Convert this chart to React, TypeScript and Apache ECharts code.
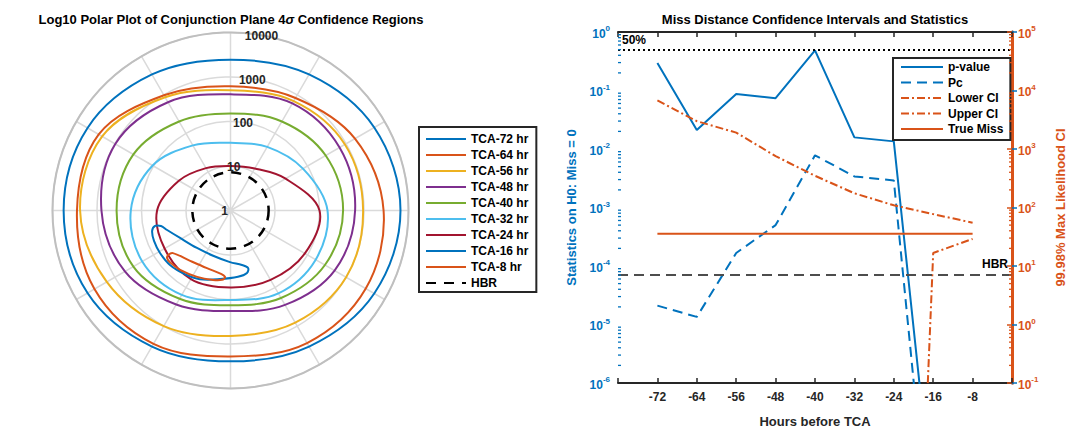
import React, { useEffect, useRef } from 'react';
import * as echarts from 'echarts';

const BLUE = '#0072BD';
const ORANGE = '#D95319';
const YELLOW = '#EDB120';
const PURPLE = '#7E2F8E';
const GREEN = '#77AC30';
const CYAN = '#4DBEEE';
const RED = '#A2142F';
const FONT = '"Liberation Sans", Arial, Helvetica, sans-serif';

// ---- Polar plot: confidence region contours, [angle in degrees, log10(radius)] ----
const TCA72 = [[0, 3.82], [30, 3.73], [60, 3.53], [90, 3.39], [120, 3.53], [150, 3.71], [180, 3.75], [210, 3.71], [240, 3.53], [270, 3.39], [300, 3.53], [330, 3.73], [360, 3.82]];
const TCA64 = [[0, 3.44], [30, 3.23], [60, 2.92], [90, 2.79], [120, 2.99], [150, 3.42], [180, 3.45], [210, 3.53], [240, 3.46], [270, 3.28], [300, 3.44], [330, 3.51], [360, 3.44]];
const TCA56 = [[0, 2.98], [30, 2.97], [60, 2.84], [90, 2.70], [120, 2.94], [150, 3.33], [180, 3.38], [210, 3.21], [240, 3.00], [270, 2.82], [300, 2.91], [330, 3.00], [360, 2.98]];
const TCA48 = [[0, 2.80], [30, 2.83], [60, 2.78], [90, 2.61], [120, 2.81], [150, 2.99], [180, 2.90], [210, 2.74], [240, 2.44], [270, 2.26], [300, 2.45], [330, 2.70], [360, 2.80]];
const TCA40 = [[0, 2.53], [30, 2.47], [60, 2.31], [90, 2.18], [120, 2.31], [150, 2.52], [180, 2.56], [210, 2.52], [240, 2.29], [270, 2.13], [300, 2.27], [330, 2.45], [360, 2.53]];
const TCA32 = [[0, 2.18], [30, 1.88], [60, 1.65], [90, 1.52], [120, 1.69], [150, 2.02], [180, 2.24], [210, 2.29], [240, 2.19], [270, 2.01], [300, 2.15], [330, 2.21], [360, 2.18]];
const TCA24 = [[0, 2.00], [30, 1.43], [60, 1.09], [90, 1.00], [120, 1.10], [150, 1.34], [180, 1.65], [210, 1.71], [240, 1.78], [270, 1.73], [300, 1.80], [330, 1.93], [360, 2.00]];
const TCA16 = [[194.6, 1.82], [191.6, 1.73], [192.6, 1.60], [197.1, 1.49], [208.6, 1.29], [228.2, 1.13], [249, 1.09], [269.4, 1.16], [281.9, 1.25], [287, 1.35], [284.8, 1.45], [276.4, 1.50], [261.3, 1.56], [246, 1.69], [234.4, 1.76], [222, 1.83], [211.1, 1.85], [201.7, 1.85], [194.6, 1.82]];
const TCA8 = [[215.5, 1.72], [216.5, 1.61], [231.3, 1.45], [247.8, 1.40], [261.5, 1.44], [265.3, 1.50], [263, 1.57], [255.9, 1.61], [243.3, 1.67], [229.7, 1.75], [220.4, 1.79], [216.8, 1.78], [215.5, 1.72]];
const HBR_M = 7.2; // hard-body radius (m)
const POLAR_CURVES: [string, string, number[][]][] = [
  ['TCA-72 hr', BLUE, TCA72],
  ['TCA-64 hr', ORANGE, TCA64],
  ['TCA-56 hr', YELLOW, TCA56],
  ['TCA-48 hr', PURPLE, TCA48],
  ['TCA-40 hr', GREEN, TCA40],
  ['TCA-32 hr', CYAN, TCA32],
  ['TCA-24 hr', RED, TCA24],
  ['TCA-16 hr', BLUE, TCA16],
  ['TCA-8 hr', ORANGE, TCA8],
];

// ---- Right plot: statistics vs hours before TCA ----
const HOURS = [-72, -64, -56, -48, -40, -32, -24, -16, -8];
const P_VALUE = [0.295, 0.0211, 0.0873, 0.074, 0.485, 0.0158, 0.0135, 6e-9, 1e-12];
const PC = [2.1e-5, 1.35e-5, 1.67e-4, 5.0e-4, 7.8e-3, 3.4e-3, 2.9e-3, 4.4e-10, 1e-12];
const LOWER_CI = [1e-15, 1e-15, 1e-15, 1e-15, 1e-15, 1e-15, 1e-15, 16.7, 29];
const UPPER_CI = [6760, 2990, 1905, 756, 348, 175, 109, 77, 55];
const TRUE_MISS = [35.5, 35.5, 35.5, 35.5, 35.5, 35.5, 35.5, 35.5, 35.5];
const FIFTY_PCT = 0.5;
const X_TICK_LABELS = [-72, -64, -56, -48, -40, -32, -24, -16, -8];
const X_MIN = -80;
const X_MAX = 0;
const MINOR_MULTS = [2, 3, 4, 5, 6, 7, 8, 9];
const LEFT_DECADES = [-6, -5, -4, -3, -2, -1];
const RIGHT_DECADES = [-1, 0, 1, 2, 3, 4];

// closed contour drawn as one smooth polygon through the polar coordinate system
const polarLoop = (color: string, pts: number[][], smooth: number) => ({
  type: 'custom',
  coordinateSystem: 'polar',
  polarIndex: 0,
  silent: true,
  z: 3,
  data: pts.slice(0, -1).map(([a, r]) => [r, a]),
  renderItem: (params: any, api: any) => {
    if (params.dataIndexInside !== 0) return null;
    const points: number[][] = [];
    for (let i = 0; i < params.dataInsideLength; i++) {
      points.push(api.coord([api.value(0, i), api.value(1, i)]));
    }
    return {
      type: 'polygon',
      shape: { points, smooth },
      style: { fill: 'none', stroke: color, lineWidth: 2 },
    };
  },
});

// legend-only entries (line icons)
const legendLine = (name: string, color: string, type: any = 'solid', width = 2) => ({
  name,
  type: 'line',
  coordinateSystem: 'polar',
  polarIndex: 0,
  data: [],
  symbol: 'none',
  lineStyle: { color, width, type },
  itemStyle: { color },
  silent: true,
});

const supLabel = (color: string) => ({
  formatter: (v: number) => `{b|10}{s|${Math.round(Math.log10(v))}}`,
  rich: {
    b: { fontSize: 12, fontWeight: 'bold', color, fontFamily: FONT, lineHeight: 15, verticalAlign: 'bottom' },
    s: { fontSize: 8, fontWeight: 'bold', color, fontFamily: FONT, lineHeight: 9, verticalAlign: 'top' },
  },
});

const minorTicks = (yAxisIndex: number, decades: number[], xEdge: number, dir: number, color: string) => ({
  type: 'custom',
  xAxisIndex: 0,
  yAxisIndex,
  silent: true,
  clip: false,
  z: 5,
  data: decades.flatMap((d) => MINOR_MULTS.map((m) => [xEdge, m * Math.pow(10, d)])),
  renderItem: (_p: any, api: any) => {
    const p = api.coord([api.value(0), api.value(1)]);
    return {
      type: 'line',
      shape: { x1: p[0], y1: p[1], x2: p[0] + dir * 3, y2: p[1] },
      style: { stroke: color, lineWidth: 1.3 },
    };
  },
});

const labelTxt = { fontFamily: FONT, fontWeight: 'bold' as const, fontSize: 12, color: '#000' };

const option: any = {
  animation: false,
  backgroundColor: '#fff',
  textStyle: { fontFamily: FONT },
  title: [
    {
      text: '{a|Log10 Polar Plot of Conjunction Plane 4}{i|σ}{a| Confidence Regions}',
      left: 231,
      top: 12,
      padding: 0,
      textAlign: 'center',
      textStyle: {
        rich: {
          a: { fontSize: 13, fontWeight: 'bold', color: '#000', fontFamily: FONT, lineHeight: 15 },
          i: { fontSize: 13, fontStyle: 'italic', color: '#000', fontFamily: FONT, lineHeight: 15 },
        },
      },
    },
    {
      text: 'Miss Distance Confidence Intervals and Statistics',
      left: 815,
      top: 12,
      padding: 0,
      textAlign: 'center',
      textStyle: { fontSize: 13, fontWeight: 'bold', color: '#000', fontFamily: FONT, lineHeight: 15 },
    },
  ],
  legend: [
    {
      data: [...POLAR_CURVES.map((c) => c[0]), 'HBR'],
      orient: 'vertical',
      left: 419,
      top: 127,
      padding: [5, 8, 2, 6],
      itemWidth: 40,
      itemHeight: 12,
      itemGap: 2,
      borderColor: '#262626',
      borderWidth: 2,
      backgroundColor: '#fff',
      itemStyle: { opacity: 0 },
      textStyle: { ...labelTxt, lineHeight: 14 },
      selectedMode: false,
    },
    {
      data: ['p-value', 'Pc', 'Lower CI', 'Upper CI', 'True Miss'],
      orient: 'vertical',
      left: 893,
      top: 58,
      padding: [2, 7, 4, 7],
      itemWidth: 42,
      itemHeight: 12,
      itemGap: 1.5,
      borderColor: '#262626',
      borderWidth: 2,
      backgroundColor: '#fff',
      itemStyle: { opacity: 0 },
      textStyle: { ...labelTxt, lineHeight: 14 },
      selectedMode: false,
    },
  ],
  polar: [
    { center: [230.5, 210.5], radius: 178 },
    { center: [230.5, 210.5], radius: 178 },
  ],
  angleAxis: [
    {
      polarIndex: 0,
      type: 'value',
      min: 0,
      max: 360,
      interval: 30,
      startAngle: 0,
      clockwise: false,
      axisLine: { show: true, lineStyle: { color: '#bfbfbf', width: 2 } },
      axisTick: { show: false },
      axisLabel: { show: false },
      splitLine: { show: true, lineStyle: { color: '#dadada', width: 1.5 } },
    },
    {
      polarIndex: 1,
      type: 'value',
      min: 0,
      max: 360,
      startAngle: 78,
      clockwise: false,
      show: false,
    },
  ],
  radiusAxis: [
    {
      polarIndex: 0,
      type: 'value',
      min: 0,
      max: 4,
      interval: 1,
      axisLine: { show: false },
      axisTick: { show: false },
      axisLabel: { show: false },
      splitLine: { show: true, lineStyle: { color: '#dadada', width: 1.5 } },
    },
    {
      polarIndex: 1,
      type: 'value',
      min: 0,
      max: 4,
      interval: 1,
      z: 10,
      axisLine: { show: false },
      axisTick: { show: false },
      splitLine: { show: false },
      axisLabel: {
        show: true,
        margin: 0,
        align: 'center',
        verticalAlign: 'middle',
        padding: [0, 12, 0, 0],
        formatter: (v: number) => String(Math.round(Math.pow(10, v))),
        color: '#262626',
        fontWeight: 'bold',
        fontSize: 12,
        fontFamily: FONT,
      },
    },
  ],
  grid: { left: 618, top: 32, width: 394, height: 357, containLabel: false },
  xAxis: [
    {
      type: 'value',
      min: X_MIN,
      max: X_MAX,
      interval: 8,
      position: 'bottom',
      axisLine: { show: true, onZero: false, lineStyle: { color: '#262626', width: 2 } },
      axisTick: { show: true, inside: true, length: 5, lineStyle: { color: '#262626', width: 1.5 } },
      axisLabel: {
        formatter: (v: number) => (X_TICK_LABELS.includes(v) ? String(v) : ''),
        color: '#262626',
        fontWeight: 'bold',
        fontSize: 12,
        fontFamily: FONT,
        margin: 8,
      },
      splitLine: { show: false },
      name: 'Hours before TCA',
      nameLocation: 'middle',
      nameGap: 32,
      nameTextStyle: { color: '#262626', fontWeight: 'bold', fontSize: 13, fontFamily: FONT },
    },
    {
      type: 'value',
      min: X_MIN,
      max: X_MAX,
      interval: 8,
      position: 'top',
      axisLine: { show: true, onZero: false, lineStyle: { color: '#262626', width: 2 } },
      axisTick: { show: true, inside: true, length: 5, lineStyle: { color: '#262626', width: 1.5 } },
      axisLabel: { show: false },
      splitLine: { show: false },
    },
  ],
  yAxis: [
    {
      type: 'log',
      logBase: 10,
      min: 1e-6,
      max: 1,
      splitNumber: 6,
      position: 'left',
      axisLine: { show: true, lineStyle: { color: BLUE, width: 3 } },
      axisTick: { show: true, inside: true, length: 5, lineStyle: { color: BLUE, width: 1.5 } },
      axisLabel: { ...supLabel(BLUE), margin: 8 },
      splitLine: { show: false },
      name: 'Statistics on H0: Miss = 0',
      nameLocation: 'middle',
      nameGap: 40,
      nameRotate: 90,
      nameTextStyle: { color: BLUE, fontWeight: 'bold', fontSize: 13, fontFamily: FONT },
    },
    {
      type: 'log',
      logBase: 10,
      min: 0.1,
      max: 1e5,
      splitNumber: 6,
      position: 'right',
      axisLine: { show: true, lineStyle: { color: ORANGE, width: 3 } },
      axisTick: { show: true, inside: true, length: 5, lineStyle: { color: ORANGE, width: 1.5 } },
      axisLabel: { ...supLabel(ORANGE), margin: 6 },
      splitLine: { show: false },
      name: '99.98% Max Likelihood CI',
      nameLocation: 'middle',
      nameGap: 42,
      nameRotate: 90,
      nameTextStyle: { color: ORANGE, fontWeight: 'bold', fontSize: 13, fontFamily: FONT },
    },
  ],
  series: [
    ...POLAR_CURVES.map(([n, c]) => legendLine(n, c)),
    legendLine('HBR', '#000', [10, 8], 2.5),
    ...POLAR_CURVES.map(([, c, p]) => polarLoop(c, p, 0.35)),
    {
      type: 'custom',
      coordinateSystem: 'polar',
      polarIndex: 0,
      silent: true,
      z: 3,
      data: [[Math.log10(HBR_M), 0]],
      renderItem: (_p: any, api: any) => {
        const c = api.coord([0, 0]);
        const e = api.coord([api.value(0), api.value(1)]);
        return {
          type: 'circle',
          shape: { cx: c[0], cy: c[1], r: Math.hypot(e[0] - c[0], e[1] - c[1]) },
          style: { fill: 'none', stroke: '#000', lineWidth: 2.5, lineDash: [10, 8] },
        };
      },
    },
    {
      name: 'p-value',
      type: 'line',
      xAxisIndex: 0,
      yAxisIndex: 0,
      data: HOURS.map((h, i) => [h, P_VALUE[i]]),
      symbol: 'none',
      clip: true,
      lineStyle: { color: BLUE, width: 2 },
      itemStyle: { color: BLUE },
      markLine: {
        silent: true,
        symbol: 'none',
        data: [
          {
            yAxis: FIFTY_PCT,
            lineStyle: { type: [2, 3], color: '#000', width: 2 },
            label: { show: true, position: 'insideStartTop', formatter: '50%', ...labelTxt, distance: 4 },
          },
        ],
      },
    },
    {
      name: 'Pc',
      type: 'line',
      xAxisIndex: 0,
      yAxisIndex: 0,
      data: HOURS.map((h, i) => [h, PC[i]]),
      symbol: 'none',
      clip: true,
      lineStyle: { color: BLUE, width: 2, type: [10, 6] },
      itemStyle: { color: BLUE },
    },
    {
      name: 'Lower CI',
      type: 'line',
      xAxisIndex: 0,
      yAxisIndex: 1,
      data: HOURS.map((h, i) => [h, LOWER_CI[i]]),
      symbol: 'none',
      clip: true,
      lineStyle: { color: ORANGE, width: 2, type: [8, 3, 2, 3] },
      itemStyle: { color: ORANGE },
    },
    {
      name: 'Upper CI',
      type: 'line',
      xAxisIndex: 0,
      yAxisIndex: 1,
      data: HOURS.map((h, i) => [h, UPPER_CI[i]]),
      symbol: 'none',
      clip: true,
      lineStyle: { color: ORANGE, width: 2, type: [8, 3, 2, 3] },
      itemStyle: { color: ORANGE },
    },
    {
      name: 'True Miss',
      type: 'line',
      xAxisIndex: 0,
      yAxisIndex: 1,
      data: HOURS.map((h, i) => [h, TRUE_MISS[i]]),
      symbol: 'none',
      clip: true,
      lineStyle: { color: ORANGE, width: 2 },
      itemStyle: { color: ORANGE },
      markLine: {
        silent: true,
        symbol: 'none',
        data: [
          {
            yAxis: HBR_M,
            lineStyle: { type: [10, 6], color: '#4d4d4d', width: 2 },
            label: { show: true, position: 'insideEndTop', formatter: 'HBR', ...labelTxt, distance: 4 },
          },
        ],
      },
    },
    minorTicks(0, LEFT_DECADES, X_MIN, 1, BLUE),
    minorTicks(1, RIGHT_DECADES, X_MAX, -1, ORANGE),
  ],
};

export default function App() {
  const ref = useRef<HTMLDivElement>(null);
  useEffect(() => {
    if (!ref.current) return;
    const chart = echarts.init(ref.current, undefined, { renderer: 'svg' });
    chart.setOption(option);
    return () => chart.dispose();
  }, []);
  return (
    <div
      ref={ref}
      style={{ position: 'fixed', left: 0, top: 0, width: 1068, height: 433, background: '#fff' }}
    />
  );
}
